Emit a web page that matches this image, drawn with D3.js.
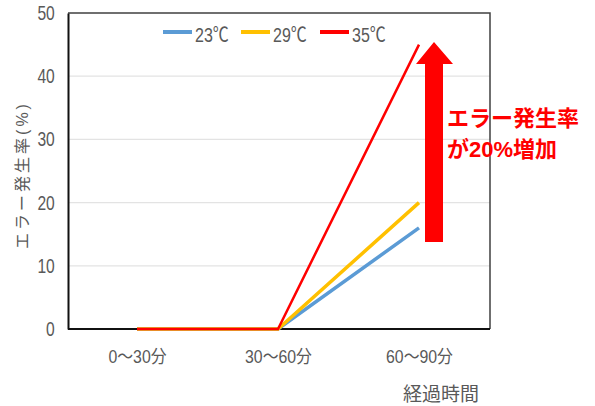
<!DOCTYPE html>
<html><head><meta charset="utf-8">
<script src="https://cdn.jsdelivr.net/npm/d3@7/dist/d3.min.js"></script>
<style>
body{margin:0;background:#fff;}
text{font-family:"Liberation Sans","Noto Sans CJK JP",sans-serif;}
</style></head>
<body><svg id="c" width="595" height="406"></svg>
<script>
const categories = ["0～30分","30～60分","60～90分"];
const seriesNames = ["23℃","29℃","35℃"];
const values23 = [0, 0, 16];
const values29 = [0, 0, 20];
const values35 = [0, 0, 45];
const yTicks = [0,10,20,30,40,50];
const colors = ["#5B9BD5","#FFC000","#FF0000"];

const series = [
  {name: seriesNames[0], values: values23, color: colors[0], w: 3.5},
  {name: seriesNames[1], values: values29, color: colors[1], w: 3.5},
  {name: seriesNames[2], values: values35, color: colors[2], w: 2.5}
];

const svg = d3.select("#c");
const L=68, T=13, R=490, B=329;
const x = d3.scalePoint().domain(categories).range([137, 419]);
const y = d3.scaleLinear().domain([0,50]).range([B, T]);

// gridlines
svg.append("g").selectAll("line").data(yTicks.filter(d=>d>0 && d<50)).join("line")
  .attr("x1",L).attr("x2",R).attr("y1",d=>y(d)).attr("y2",d=>y(d))
  .attr("stroke","#e3e3e3").attr("stroke-width",1.2);

// frame top/right
svg.append("path").attr("d",`M${L},${T}H${R}V${B}`).attr("fill","none")
  .attr("stroke","#404040").attr("stroke-width",1.5);

// y axis
const ya = svg.append("g").attr("transform",`translate(${L},0)`)
  .call(d3.axisLeft(y).tickValues(yTicks).tickSize(0).tickPadding(17));
ya.select(".domain").attr("stroke","#111").attr("stroke-width",2);
ya.selectAll("text").attr("fill","#595959").attr("font-size",20)
  .attr("transform","scale(0.78,1)");

// x axis
const xa = svg.append("g").attr("transform",`translate(0,${B})`)
  .call(d3.axisBottom(x).tickSize(0).tickPadding(21));
xa.select(".domain").attr("d",`M${L},0H${R}`).attr("stroke","#111").attr("stroke-width",2);
xa.selectAll("text").attr("fill","#595959").attr("font-size",18)
  .attr("transform","scale(0.88,1)");

// lines
const line = d3.line().x((d,i)=>x(categories[i])).y(d=>y(d));
svg.append("g").selectAll("path").data(series).join("path")
  .attr("d",d=>line(d.values)).attr("fill","none")
  .attr("stroke",d=>d.color).attr("stroke-width",d=>d.w)
  .attr("stroke-linejoin","miter");

// legend
const lg = svg.append("g");
const lx = [163, 241, 320];
series.forEach((s,i)=>{
  lg.append("line").attr("x1",lx[i]).attr("x2",lx[i]+29).attr("y1",32).attr("y2",32)
    .attr("stroke",s.color).attr("stroke-width",4);
  lg.append("text").attr("transform",`translate(${lx[i]+32},42) scale(0.8,1)`)
    .attr("fill","#595959").attr("font-size",20).text(s.name);
});

// axis titles
svg.append("text").attr("transform","translate(28,175) rotate(-90)")
  .attr("text-anchor","middle").attr("fill","#595959").attr("font-size",16)
  .attr("letter-spacing",3).text("エラー発生率(%)");
svg.append("text").attr("x",441).attr("y",401).attr("text-anchor","middle")
  .attr("fill","#595959").attr("font-size",19).text("経過時間");

// arrow annotation
const ax = 434;
svg.append("path")
  .attr("d",`M${ax-9},${242}V${64}H${ax-18}L${ax},${42}L${ax+19},${64}H${ax+9}V${242}Z`)
  .attr("fill","#FF0000");
svg.append("text").attr("x",447).attr("y",126).attr("fill","#FF0000")
  .attr("font-size",22).attr("font-weight","bold").attr("font-family","Noto Sans CJK JP")
  .text("エラー発生率");
svg.append("text").attr("x",447).attr("y",157).attr("fill","#FF0000")
  .attr("font-size",22).attr("font-weight","bold").attr("font-family","Noto Sans CJK JP")
  .text("が20%増加");
</script></body></html>
